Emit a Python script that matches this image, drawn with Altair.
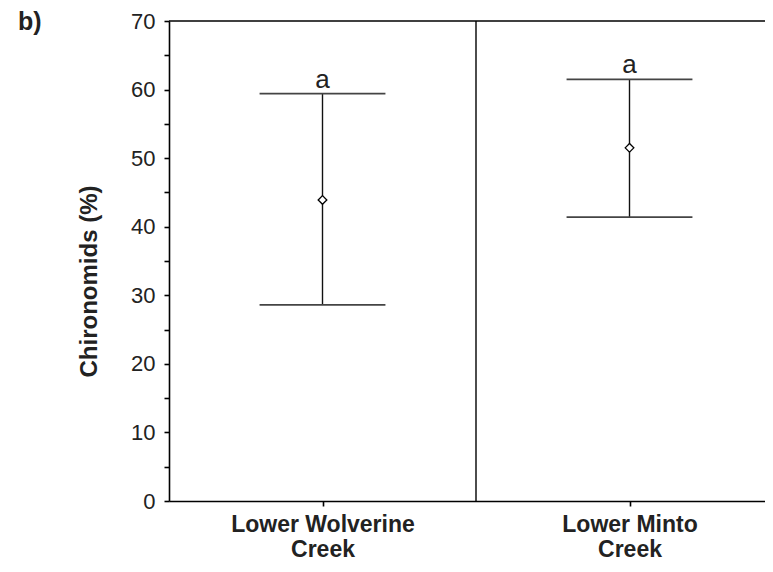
import altair as alt
import pandas as pd

# ---- data ----
sites = ["Lower Wolverine Creek", "Lower Minto Creek"]
site_pos = [0.5, 1.5]
means = [43.9, 51.5]
uppers = [59.4, 61.5]
lowers = [28.6, 41.4]
letters = ["a", "a"]
y_ticks = [0, 5, 10, 15, 20, 25, 30, 35, 40, 45, 50, 55, 60, 65, 70]

df = pd.DataFrame({"site": sites, "pos": site_pos, "mean": means,
                   "upper": uppers, "lower": lowers, "letter": letters})

W, H = 596, 480
XMAX = W / 307.0
CAP = 0.205
FONT = "Liberation Sans"

def lines(s):
    return s.rsplit(" ", 1)

label_expr = " : ".join(
    [f"datum.value == {p} ? {lines(s)!r}" for p, s in zip(site_pos[:-1], sites[:-1])]
    + [repr(lines(sites[-1]))]
)

xscale = alt.Scale(domain=[0, XMAX], nice=False, zero=False)
yscale = alt.Scale(domain=[0, 70], nice=False)

xaxis = alt.Axis(values=site_pos, labelExpr=label_expr, title=None, grid=False,
                 domainColor="black", domainWidth=1.6, tickColor="black",
                 tickSize=5, tickWidth=1.6, labelFont=FONT, labelFontSize=23,
                 labelFontWeight="bold", labelColor="#222222", labelLimit=400,
                 labelLineHeight=25, labelPadding=7)
yaxis = alt.Axis(values=y_ticks,
                 labelExpr="datum.value % 10 == 0 ? datum.label : ''",
                 title="Chironomids (%)", grid=False, domainColor="black",
                 domainWidth=1.6, tickColor="black", tickSize=5, tickWidth=1.6,
                 labelFont=FONT, labelFontSize=22, labelColor="#222222",
                 labelPadding=9, titleFont=FONT, titleFontSize=24,
                 titleFontWeight="bold", titleColor="#222222",
                 titleX=-80, titleY=260, titleAngle=270,
                 titleAlign="center", titleBaseline="middle")

X = lambda f: alt.X(f, scale=xscale, axis=xaxis, title=None)
Y = lambda f: alt.Y(f, scale=yscale, axis=yaxis, title="Chironomids (%)")

base = alt.Chart(df)

whisker = base.mark_rule(color="#111111", strokeWidth=1.4).encode(
    x=X("pos:Q"), y=Y("lower:Q"), y2="upper:Q")

caps = base.transform_calculate(a="datum.pos - %f" % CAP, b="datum.pos + %f" % CAP)
cap_hi = caps.mark_rule(color="#444444", strokeWidth=1.8).encode(
    x=X("a:Q"), x2="b:Q", y=Y("upper:Q"))
cap_lo = caps.mark_rule(color="#444444", strokeWidth=1.8).encode(
    x=X("a:Q"), x2="b:Q", y=Y("lower:Q"))

points = base.mark_point(shape="diamond", filled=True, fill="white", stroke="black",
                         strokeWidth=1.3, size=75, opacity=1).encode(
    x=X("pos:Q"), y=Y("mean:Q"))

labels = base.mark_text(font=FONT, fontSize=26, color="#222222", dy=-6,
                        baseline="alphabetic").encode(
    x=X("pos:Q"), y=Y("upper:Q"), text="letter:N")

divider = alt.Chart(pd.DataFrame({"v": [1.0]})).mark_rule(color="black", strokeWidth=1.4).encode(
    x=X("v:Q"), y=alt.value(0), y2=alt.value(H))

top = alt.Chart(pd.DataFrame({"v": [70]})).mark_rule(color="black", strokeWidth=1.6).encode(
    y=Y("v:Q"), x=alt.value(0), x2=alt.value(W))

panel = alt.Chart(pd.DataFrame({"t": ["b)"]})).mark_text(
    font=FONT, fontSize=25, fontWeight="bold", color="#222222", align="left",
    baseline="middle").encode(x=alt.value(-151), y=alt.value(1), text="t:N")

chart = alt.layer(whisker, cap_hi, cap_lo, points, labels, divider, top, panel).properties(
    width=W, height=H,
    autosize=alt.AutoSizeParams(type="none"),
    padding={"left": 161, "top": 13, "right": 0, "bottom": 62},
).configure_view(stroke=None)

chart.save("out.html", embed_options={"renderer": "svg", "actions": False})
